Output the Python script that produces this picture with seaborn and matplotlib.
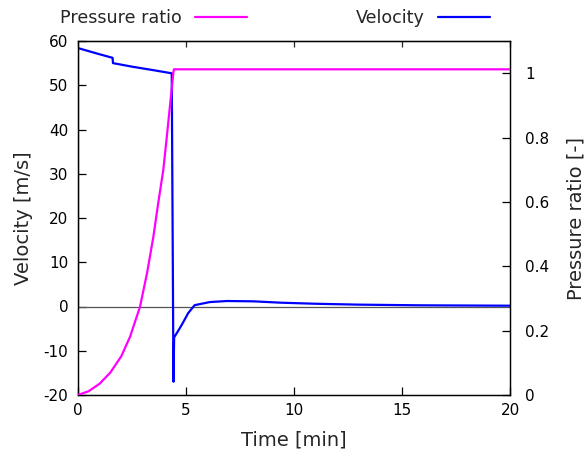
import matplotlib
matplotlib.use("Agg")
import matplotlib.pyplot as plt
import seaborn as sns
import pandas as pd

# Time series for the two quantities
vel_time = [0.0, 0.0, 0.5, 1.0, 1.6, 1.62, 2.5, 3.5, 4.34, 4.42, 4.45,
            4.7, 4.9, 5.1, 5.4, 6.1, 6.9, 8.1, 9.4, 11.0, 13.0, 15.8, 20.0]
velocity = [0.0, 58.4, 57.7, 57.0, 56.2, 55.0, 54.2, 53.4, 52.7, -17.0, -7.0,
            -5.0, -3.3, -1.5, 0.3, 1.0, 1.24, 1.17, 0.86, 0.62, 0.42, 0.27, 0.18]

pr_time = [0.0, 0.5, 1.0, 1.5, 2.0, 2.41, 2.87, 3.2, 3.49, 3.7, 3.95, 4.1,
           4.26, 4.41, 4.44, 20.0]
pressure_ratio = [0.0, 0.012, 0.035, 0.07, 0.12, 0.181, 0.274, 0.38, 0.492,
                  0.59, 0.70, 0.795, 0.90, 0.999, 1.012, 1.012]

x_ticks = [0, 5, 10, 15, 20]
vel_ticks = [-20, -10, 0, 10, 20, 30, 40, 50, 60]
pr_ticks = [0, 0.2, 0.4, 0.6, 0.8, 1]

sns.set_style("ticks")
plt.rcParams["font.family"] = ["DejaVu Sans"]
plt.rcParams["axes.unicode_minus"] = False

vel_df = pd.DataFrame({"Time": vel_time, "Velocity": velocity})
pr_df = pd.DataFrame({"Time": pr_time, "Pressure ratio": pressure_ratio})

fig = plt.figure(figsize=(5.87, 4.51), dpi=100)
ax = fig.add_axes([78 / 587, 1 - 395 / 451, 432 / 587, 354 / 451])
ax2 = ax.twinx()

ax.axhline(0, color="#555555", lw=0.9, zorder=1)

sns.lineplot(data=vel_df, x="Time", y="Velocity", ax=ax, color="#0000ff",
             lw=1.6, estimator=None, sort=False, label="Velocity", legend=False,
             zorder=3)
sns.lineplot(data=pr_df, x="Time", y="Pressure ratio", ax=ax2, color="#ff00ff",
             lw=1.6, estimator=None, sort=False, label="Pressure ratio",
             legend=False, zorder=3)

ax.set_xlim(0, 20)
ax.set_ylim(-20, 60)
ax2.set_ylim(0, 1.1)
ax.set_xticks(x_ticks)
ax.set_yticks(vel_ticks)
ax2.set_yticks(pr_ticks)
ax2.set_yticklabels([f"{v:g}" for v in pr_ticks])

ax.set_xlabel("Time [min]", fontsize=14, labelpad=9)
ax.set_ylabel("Velocity [m/s]", fontsize=14, labelpad=7.5)
ax2.set_ylabel("Pressure ratio [-]", fontsize=14, labelpad=12)

for a in (ax, ax2):
    for s in a.spines.values():
        s.set_linewidth(0.9)
        s.set_color("black")
ax.tick_params(axis="both", direction="in", length=6, width=0.9,
               labelsize=11, pad=7, colors="black")
ax.tick_params(axis="x", pad=6)
ax2.tick_params(axis="y", direction="in", length=6, width=0.9,
                labelsize=11, pad=11, colors="black")

top = ax.secondary_xaxis("top")
top.set_xticks(x_ticks)
top.tick_params(direction="in", length=4, width=0.9, labeltop=False)

# Key above the plot: label followed by its line sample
handles = [ax2.get_lines()[0], ax.get_lines()[1]]
fig.legend(handles, ["Pressure ratio", "Velocity"], loc="center",
           bbox_to_anchor=(275 / 587, 1 - 18 / 451), ncol=2, frameon=False,
           markerfirst=False, fontsize=12.6, handlelength=3.0,
           handletextpad=0.75, columnspacing=6.2)

fig.savefig("out.png", dpi=100)
